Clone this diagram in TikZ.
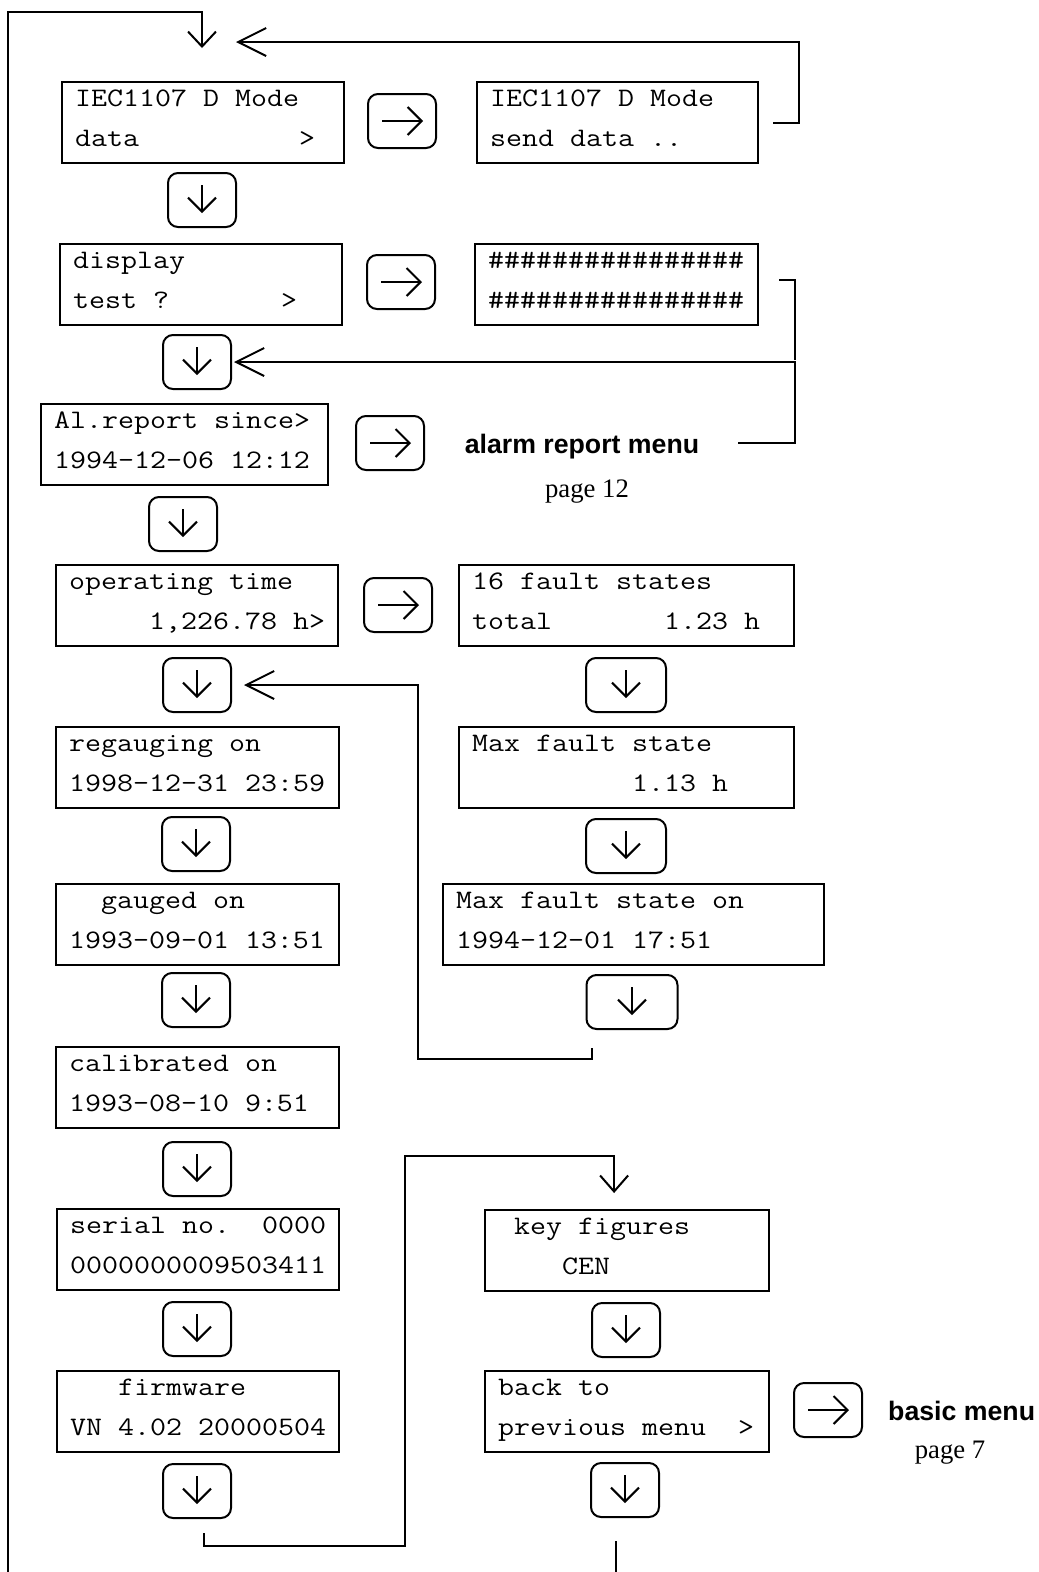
\documentclass[tikz,border=0pt]{standalone}
\usepackage{fontspec}
\setmainfont{Liberation Serif}
\setsansfont{Liberation Sans}
\setmonofont{Latin Modern Mono}[FakeStretch=1.163]
\usetikzlibrary{arrows.meta}

% display a due righe: nome, angolo in alto a sinistra, larghezza, riga 1, riga 2
\newcommand{\schermo}[5]{%
  \node[lcd, minimum width=#3] (#1) at (#2) {};
  \node[riga] at ([shift={(14,25.5)}]#1.north west) {#4};
  \node[riga] at ([shift={(14,65.5)}]#1.north west) {#5};}
% tasti freccia
\newcommand{\tastogiu}[3]{%
  \node[tasto, minimum width=#3] (#1) at (#2) {};
  \draw[punta] ([yshift=15pt]#1.center) -- ([yshift=-13pt]#1.center);}
\newcommand{\tastodx}[2]{%
  \node[tasto] (#1) at (#2) {};
  \draw[punta] ([xshift=-20pt]#1.center) -- ([xshift=21pt]#1.center);}

\begin{document}
\begin{tikzpicture}[x=1pt, y=-1pt,
    lcd/.style={draw, line width=2.2pt, anchor=north west, minimum height=81pt, inner sep=0pt},
    riga/.style={anchor=base west, inner sep=0pt, font=\ttfamily\fontsize{26.7}{32}\selectfont},
    tasto/.style={draw, line width=2pt, rounded corners=10pt, minimum width=68pt, minimum height=54pt, inner sep=0pt},
    punta/.style={line width=2pt, -{Straight Barb[length=14pt, width=28pt]}},
    linea/.style={line width=2pt},
    lunga/.style={-{Straight Barb[length=28pt, width=28pt]}},
    menu/.style={anchor=base, inner sep=0pt, font=\sffamily\bfseries\fontsize{26.7}{32}\selectfont},
    pagina/.style={anchor=base, inner sep=0pt, font=\rmfamily\fontsize{26.7}{32}\selectfont}]
  \useasboundingbox (0,0) rectangle (1039,1572);
  % Colonna sinistra
  \schermo{iec1}{61,81}{282pt}{IEC1107 D Mode}{data~~~~~~~~~~>}
  \schermo{disp}{59,243}{282pt}{display}{test ?~~~~~~~>}
  \schermo{allarme}{40,403}{287pt}{Al.report since>}{1994-12-06 12:12}
  \schermo{ore}{55,564}{282pt}{operating time}{~~~~~1,226.78 h>}
  \schermo{ritaratura}{55,726}{283pt}{regauging on}{1998-12-31 23:59}
  \schermo{taratura}{55,883}{283pt}{~~gauged on}{1993-09-01 13:51}
  \schermo{calibrazione}{55,1046}{283pt}{calibrated on}{1993-08-10 9:51}
  \schermo{seriale}{56,1208}{282pt}{serial no.~~0000}{0000000009503411}
  \schermo{firmware}{56,1370}{282pt}{~~~firmware}{VN 4.02 20000504}
  \tastogiu{g1}{202,200}{68pt}
  \tastogiu{g2}{197,362}{68pt}
  \tastogiu{g3}{183,524}{68pt}
  \tastogiu{g4}{197,685}{68pt}
  \tastogiu{g5}{196,844}{68pt}
  \tastogiu{g6}{196,1000}{68pt}
  \tastogiu{g7}{197,1169}{68pt}
  \tastogiu{g8}{197,1329}{68pt}
  \tastogiu{g9}{197,1491}{68pt}
  % Tasti a destra
  \tastodx{r1}{402,121}
  \tastodx{r2}{401,282}
  \tastodx{r3}{390,443}
  \tastodx{r4}{398,605}
  \tastodx{r5}{828,1410}
  % Colonna destra
  \schermo{iec2}{476,81}{281pt}{IEC1107 D Mode}{send data ..}
  \schermo{prova}{474,243}{283pt}{\#\#\#\#\#\#\#\#\#\#\#\#\#\#\#\#}{\#\#\#\#\#\#\#\#\#\#\#\#\#\#\#\#}
  \node[menu] (lblAllarme) at (582,453) {alarm report menu};
  \node[pagina] (pag12) at (587,497) {page 12};
  \schermo{guasti}{458,564}{335pt}{16 fault states}{total~~~~~~~1.23 h}
  \tastogiu{h1}{626,685}{80pt}
  \schermo{guastoMax}{458,726}{335pt}{Max fault state}{~~~~~~~~~~1.13 h}
  \tastogiu{h2}{626,846}{80pt}
  \schermo{guastoData}{442,883}{381pt}{Max fault state on}{1994-12-01 17:51}
  \tastogiu{h3}{632,1002}{91pt}
  \schermo{cifre}{484,1209}{284pt}{~key figures}{~~~~CEN}
  \tastogiu{k1}{626,1330}{68pt}
  \schermo{indietro}{484,1370}{284pt}{back to}{previous menu~~>}
  \tastogiu{k2}{625,1490}{68pt}
  \node[menu, anchor=base west] (lblBase) at (888,1420) {basic menu};
  \node[pagina] (pag7) at (950,1458) {page 7};
  % Collegamenti
  \coordinate (fondoSx) at (8,1572);
  \coordinate (inizio) at (202,48);
  \coordinate (ritorno) at (236,42);
  \coordinate (arrivoCifre) at ([shift={(-13,-16)}]cifre.north);
  \draw[linea, -{Straight Barb[length=15pt, width=28pt]}] (fondoSx) |- ([yshift=36pt]inizio) -- (inizio);
  \draw[linea, lunga] ([xshift=14pt]iec2.east) -- ++(26,0) |- (ritorno);
  \draw[linea] ([shift={(20,-5)}]prova.east) -- ++(16,0) -- ++(0,80);
  \draw[linea, lunga] ([shift={(39,-10)}]lblAllarme.base east) -- ++(57,0) |- ([xshift=2pt]g2.east);
  \draw[linea, lunga] ([shift={(-40,18)}]h3.south) -- ++(0,11) -- ++(-174,0) |- ([xshift=12pt]g4.east);
  \draw[linea, -{Straight Barb[length=16pt, width=28pt]}] ([shift={(7,14)}]g9.south) -- ++(0,13) -- ++(201,0) |- ([yshift=37pt]arrivoCifre) -- (arrivoCifre);
  \draw[linea] ([shift={(-9,23)}]k2.south) -- ++(0,40);
\end{tikzpicture}
\end{document}
